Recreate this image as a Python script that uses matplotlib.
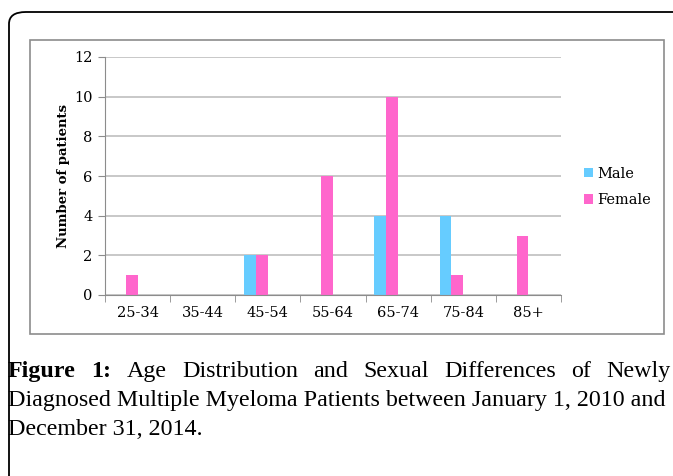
import numpy as np
import matplotlib
matplotlib.use("Agg")
from matplotlib import pyplot as plt
from matplotlib.patches import FancyBboxPatch, Rectangle

# data
age_groups = ['25-34', '35-44', '45-54', '55-64', '65-74', '75-84', '85+']
male = [0, 0, 2, 0, 4, 4, 0]
female = [1, 0, 2, 6, 10, 1, 3]

caption_bold = "Figure 1:"
caption_line1 = "Age Distribution and Sexual Differences of Newly"
caption_line2 = "Diagnosed Multiple Myeloma Patients between January 1, 2010 and"
caption_line3 = "December 31, 2014."

plt.rcParams['font.family'] = ['DejaVu Serif']

W, H = 673, 476
fig = plt.figure(figsize=(W / 100, H / 100), dpi=100)

def fx(px):
    return px / W

def fy(py):
    return 1 - py / H

# outer rounded frame (runs off the right/bottom edge)
outer = FancyBboxPatch((fx(9), fy(520)), fx(720), 508 / H,
                       boxstyle="round,pad=0,rounding_size=0.025",
                       transform=fig.transFigure, fill=False,
                       edgecolor='black', linewidth=1.3, clip_on=False)
fig.patches.append(outer)

# inner chart frame
inner = Rectangle((fx(30), fy(334)), fx(664 - 30), (334 - 40) / H,
                  transform=fig.transFigure, fill=False,
                  edgecolor='#8c8c8c', linewidth=1.2)
fig.patches.append(inner)

ax = fig.add_axes([fx(105), fy(295), fx(561 - 105), (295 - 57) / H])

x = np.arange(len(age_groups))
w = 0.182
ax.bar(x - 1.5 * w, male, w, color='#66CCFF', label='Male')
ax.bar(x - 0.5 * w, female, w, color='#FF66CC', label='Female')

ax.set_xlim(-0.5, len(age_groups) - 0.5)
ax.set_ylim(0, 12)
ax.set_yticks(range(0, 13, 2))
ax.set_xticks(x)
ax.set_xticklabels(age_groups, fontsize=10.5)
ax.tick_params(axis='y', labelsize=10.5, length=5, color='#8c8c8c', pad=4)
ax.tick_params(axis='x', length=0, pad=8)
# category separator ticks
ax.set_xticks(np.arange(-0.5, len(age_groups)), minor=True)
ax.tick_params(axis='x', which='minor', length=5, color='#8c8c8c')

ax.grid(axis='y', color='#bfbfbf', linewidth=1.2)
ax.set_axisbelow(True)
for s in ['top', 'right']:
    ax.spines[s].set_visible(False)
ax.spines['left'].set_color('#8c8c8c')
ax.spines['bottom'].set_color('#8c8c8c')

ax.set_ylabel('Number of patients', fontsize=9.5, fontweight='bold', labelpad=3)

leg = ax.legend(loc='center left', bbox_to_anchor=(fx(571), fy(187)),
                bbox_transform=fig.transFigure, frameon=False, fontsize=10.5,
                handlelength=0.6, handleheight=0.6, handletextpad=0.3,
                labelspacing=0.85)

# caption, first line justified to the frame width
cap_family = ['Liberation Serif']
cap_size = 17.3
left_px, right_px = 8, 671
fig.canvas.draw()
r = fig.canvas.get_renderer()
words = [(wd, 'bold') for wd in caption_bold.split()]
words += [(wd, 'normal') for wd in caption_line1.split()]
items = []
for wd, wt in words:
    t = fig.text(0, 0, wd, fontsize=cap_size, fontweight=wt, family=cap_family)
    items.append(t)
widths = [t.get_window_extent(r).width for t in items]
gap = (right_px - left_px - sum(widths)) / (len(items) - 1)
pos = left_px
for t, wd_px in zip(items, widths):
    t.set_position((fx(pos), fy(377)))
    pos += wd_px + gap

fig.text(fx(left_px), fy(406), caption_line2, fontsize=cap_size, family=cap_family)
fig.text(fx(left_px), fy(435), caption_line3, fontsize=cap_size, family=cap_family)

fig.savefig('out.png', dpi=100)
